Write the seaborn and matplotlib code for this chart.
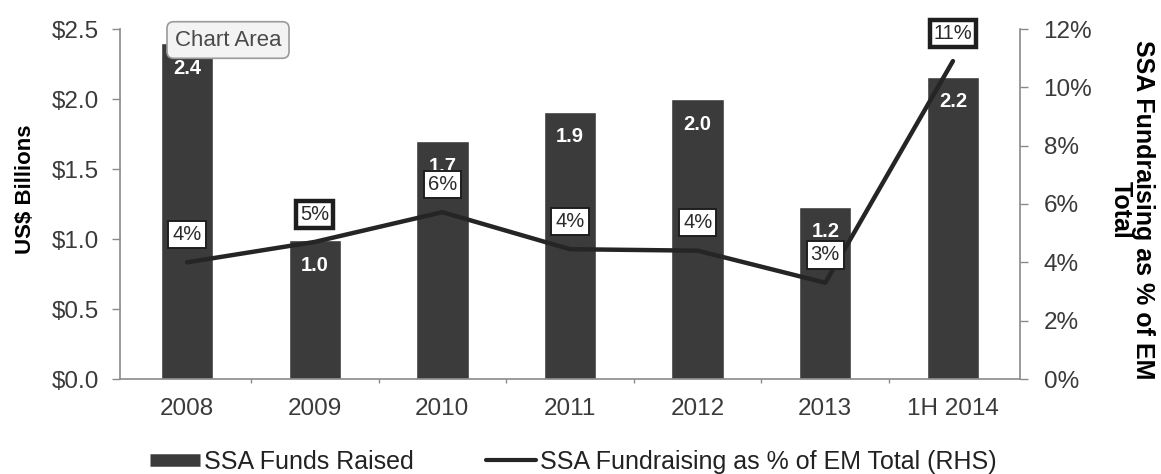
import numpy as np
import matplotlib
matplotlib.use("Agg")
import matplotlib.pyplot as plt
from matplotlib.lines import Line2D
from matplotlib.ticker import FuncFormatter
import seaborn as sns

# Data
periods = ["2008", "2009", "2010", "2011", "2012", "2013", "1H 2014"]
funds_raised = [2.4, 0.99, 1.70, 1.91, 2.0, 1.23, 2.16]          # US$ billions
share_of_em = [4.0, 4.7, 5.72, 4.45, 4.4, 3.3, 10.9]              # % of EM total
bar_label = "SSA Funds Raised"
line_label = "SSA Fundraising as % of EM Total (RHS)"

# Styling
highlighted = {"2009", "1H 2014"}
bar_color = "#3b3b3b"
line_color = "#252525"
spine_color = "#8a8a8a"
tick_text = "#3a3a3a"

sns.set_theme(style="white")
plt.rcParams["font.family"] = ["Liberation Sans", "DejaVu Sans"]

fig = plt.figure(figsize=(11.61, 4.74), dpi=100)
ax = fig.add_axes([120 / 1161, 95 / 474, 900 / 1161, 350 / 474])

sns.barplot(x=periods, y=funds_raised, color=bar_color, saturation=1,
            width=0.41, ax=ax, zorder=2)
ax.set_ylim(0, 2.5)
ax.set_yticks(np.arange(0, 2.51, 0.5))
ax.yaxis.set_major_formatter(FuncFormatter(lambda v, _: f"${v:.1f}"))
ax.set_xlabel("")
ax.set_ylabel("")

for sp in ["top", "right"]:
    ax.spines[sp].set_visible(False)
for sp in ["left", "bottom"]:
    ax.spines[sp].set_color(spine_color)
    ax.spines[sp].set_linewidth(1.2)

ax.tick_params(axis="y", direction="out", length=6, width=1, color=spine_color,
               pad=9, labelsize=17.5, labelcolor=tick_text, left=True)
ax.tick_params(axis="x", which="major", length=0, pad=14, labelsize=17.5,
               labelcolor=tick_text)
ax.set_xticks(np.arange(0.5, len(periods) - 1, 1), minor=True)
ax.tick_params(axis="x", which="minor", direction="out", length=3, width=1,
               color=spine_color, bottom=True)

# Value labels inside bars
for i, v in enumerate(funds_raised):
    ax.annotate(f"{v:.1f}", (i, v), xytext=(0, -18), textcoords="offset points",
                ha="center", va="center", color="white", fontsize=14.5,
                fontweight="bold", zorder=3)

# Share of EM total on the secondary axis
ax2 = ax.twinx()
sns.lineplot(x=np.arange(len(periods)), y=share_of_em, color=line_color,
             linewidth=3.2, ax=ax2, zorder=3)
ax2.set_ylim(0, 12)
ax2.set_yticks(np.arange(0, 12.1, 2))
ax2.yaxis.set_major_formatter(FuncFormatter(lambda v, _: f"{v:.0f}%"))
ax2.set_ylabel("")
for sp in ["top", "left", "bottom"]:
    ax2.spines[sp].set_visible(False)
ax2.spines["right"].set_color(spine_color)
ax2.spines["right"].set_linewidth(1.2)
ax2.tick_params(axis="y", direction="out", length=6, width=1, color=spine_color,
                pad=11, labelsize=17.5, labelcolor=tick_text, right=True)

for i, (p, v) in enumerate(zip(periods, share_of_em)):
    ax2.annotate(f"{v:.0f}%", (i, v), xytext=(0, 20), textcoords="offset points",
                 ha="center", va="center", fontsize=14.5, color="#2a2a2a",
                 bbox=dict(boxstyle="square,pad=0.2", fc="white", ec="#1e1e1e",
                           lw=3.2 if p in highlighted else 1.4),
                 zorder=5)

# Axis titles
ax.text(-0.105, 0.543, "US$ Billions", transform=ax.transAxes, rotation=90,
        ha="center", va="center", fontsize=16, fontweight="bold", color="black")
ax2.text(1.124, 0.483, "SSA Fundraising as % of EM\nTotal", transform=ax2.transAxes,
         rotation=-90, ha="center", va="center", multialignment="center",
         fontsize=18, fontweight="bold", color="black", linespacing=0.9)

# Chart area tag
fig.text(228 / 1161, (474 - 40) / 474, "Chart Area", ha="center", va="center",
         fontsize=16, color="#4a4a4a", zorder=10,
         bbox=dict(boxstyle="round,pad=0.35,rounding_size=0.3", fc="#f3f3f3",
                   ec="#9a9a9a", lw=1.2))

# Legend
handles = [Line2D([], [], color=bar_color, lw=9, solid_capstyle="butt"),
           Line2D([], [], color=line_color, lw=3)]
fig.legend(handles, [bar_label, line_label], loc="center left",
           bbox_to_anchor=(150 / 1161, 12 / 474), ncol=2, frameon=False,
           fontsize=18, handlelength=2.0, handletextpad=0.15, columnspacing=2.9,
           borderpad=0, borderaxespad=0, labelcolor="#222222")

fig.savefig("out.png", dpi=100)
